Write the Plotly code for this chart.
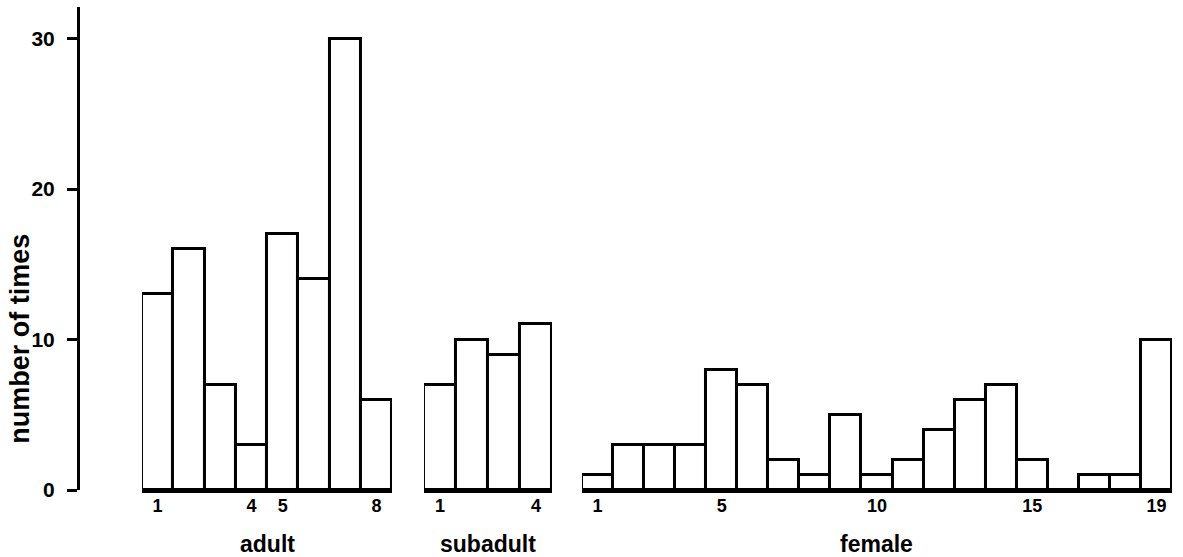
import plotly.graph_objects as go

# ---- data ----
adult_vals = [13, 16, 7, 3, 17, 14, 30, 6]
subadult_vals = [7, 10, 9, 11]
female_vals = [1, 3, 3, 3, 8, 7, 2, 1, 5, 1, 2, 4, 6, 7, 2, 0, 1, 1, 10]

adult_ticks = [1, 4, 5, 8]
subadult_ticks = [1, 4]
female_ticks = [1, 5, 10, 15, 19]
y_ticks = [0, 10, 20, 30]

group_names = ["adult", "subadult", "female"]
y_title = "number of times"

FONT = "Liberation Sans, Arial, sans-serif"

groups = [
    (adult_vals, adult_ticks, "x", [0.0579, 0.2842]),
    (subadult_vals, subadult_ticks, "x2", [0.3131, 0.4290]),
    (female_vals, female_ticks, "x3", [0.4561, 0.9900]),
]

fig = go.Figure()
for vals, ticks, xa, dom in groups:
    fig.add_trace(go.Bar(
        x=list(range(1, len(vals) + 1)), y=vals, width=1,
        marker=dict(color="white", line=dict(color="black", width=3)),
        xaxis=xa, yaxis="y", showlegend=False, hoverinfo="x+y",
    ))

layout = dict(
    width=1183, height=557,
    margin=dict(l=78, r=0, t=7, b=67),
    plot_bgcolor="white", paper_bgcolor="white",
    bargap=0,
    font=dict(family=FONT, color="black"),
    yaxis=dict(
        range=[0, 32.1], tickvals=y_ticks, showgrid=False, zeroline=False,
        showline=True, linecolor="black", linewidth=3,
        ticks="outside", ticklen=10, tickwidth=3, tickcolor="black",
        tickfont=dict(size=21, family=FONT, color="black", weight="bold"),
        anchor="free", position=0, ticklabelstandoff=8,
    ),
)
for i, (vals, ticks, xa, dom) in enumerate(groups):
    key = "xaxis" if i == 0 else "xaxis%d" % (i + 1)
    layout[key] = dict(
        domain=dom, range=[0.5, len(vals) + 0.5], anchor="y",
        tickvals=ticks, ticktext=[str(t) for t in ticks],
        showgrid=False, zeroline=False,
        showline=True, linecolor="black", linewidth=3,
        ticks="", tickfont=dict(size=18, family=FONT, color="black", weight="bold"),
        ticklabelstandoff=-3,
    )
    fig.add_annotation(
        text=group_names[i], xref="paper", yref="paper",
        x=(dom[0] + dom[1]) / 2, y=-0.112, xanchor="center", yanchor="middle",
        showarrow=False,
        font=dict(size=23, family=FONT, color="black", weight="bold"),
    )
fig.update_layout(**layout)

fig.add_annotation(
    text=y_title, textangle=-90, xref="paper", yref="paper",
    x=-0.0525, y=0.313, xanchor="center", yanchor="middle", showarrow=False,
    font=dict(size=27, family=FONT, color="black", weight="bold"),
)

fig.write_html("out.html")
